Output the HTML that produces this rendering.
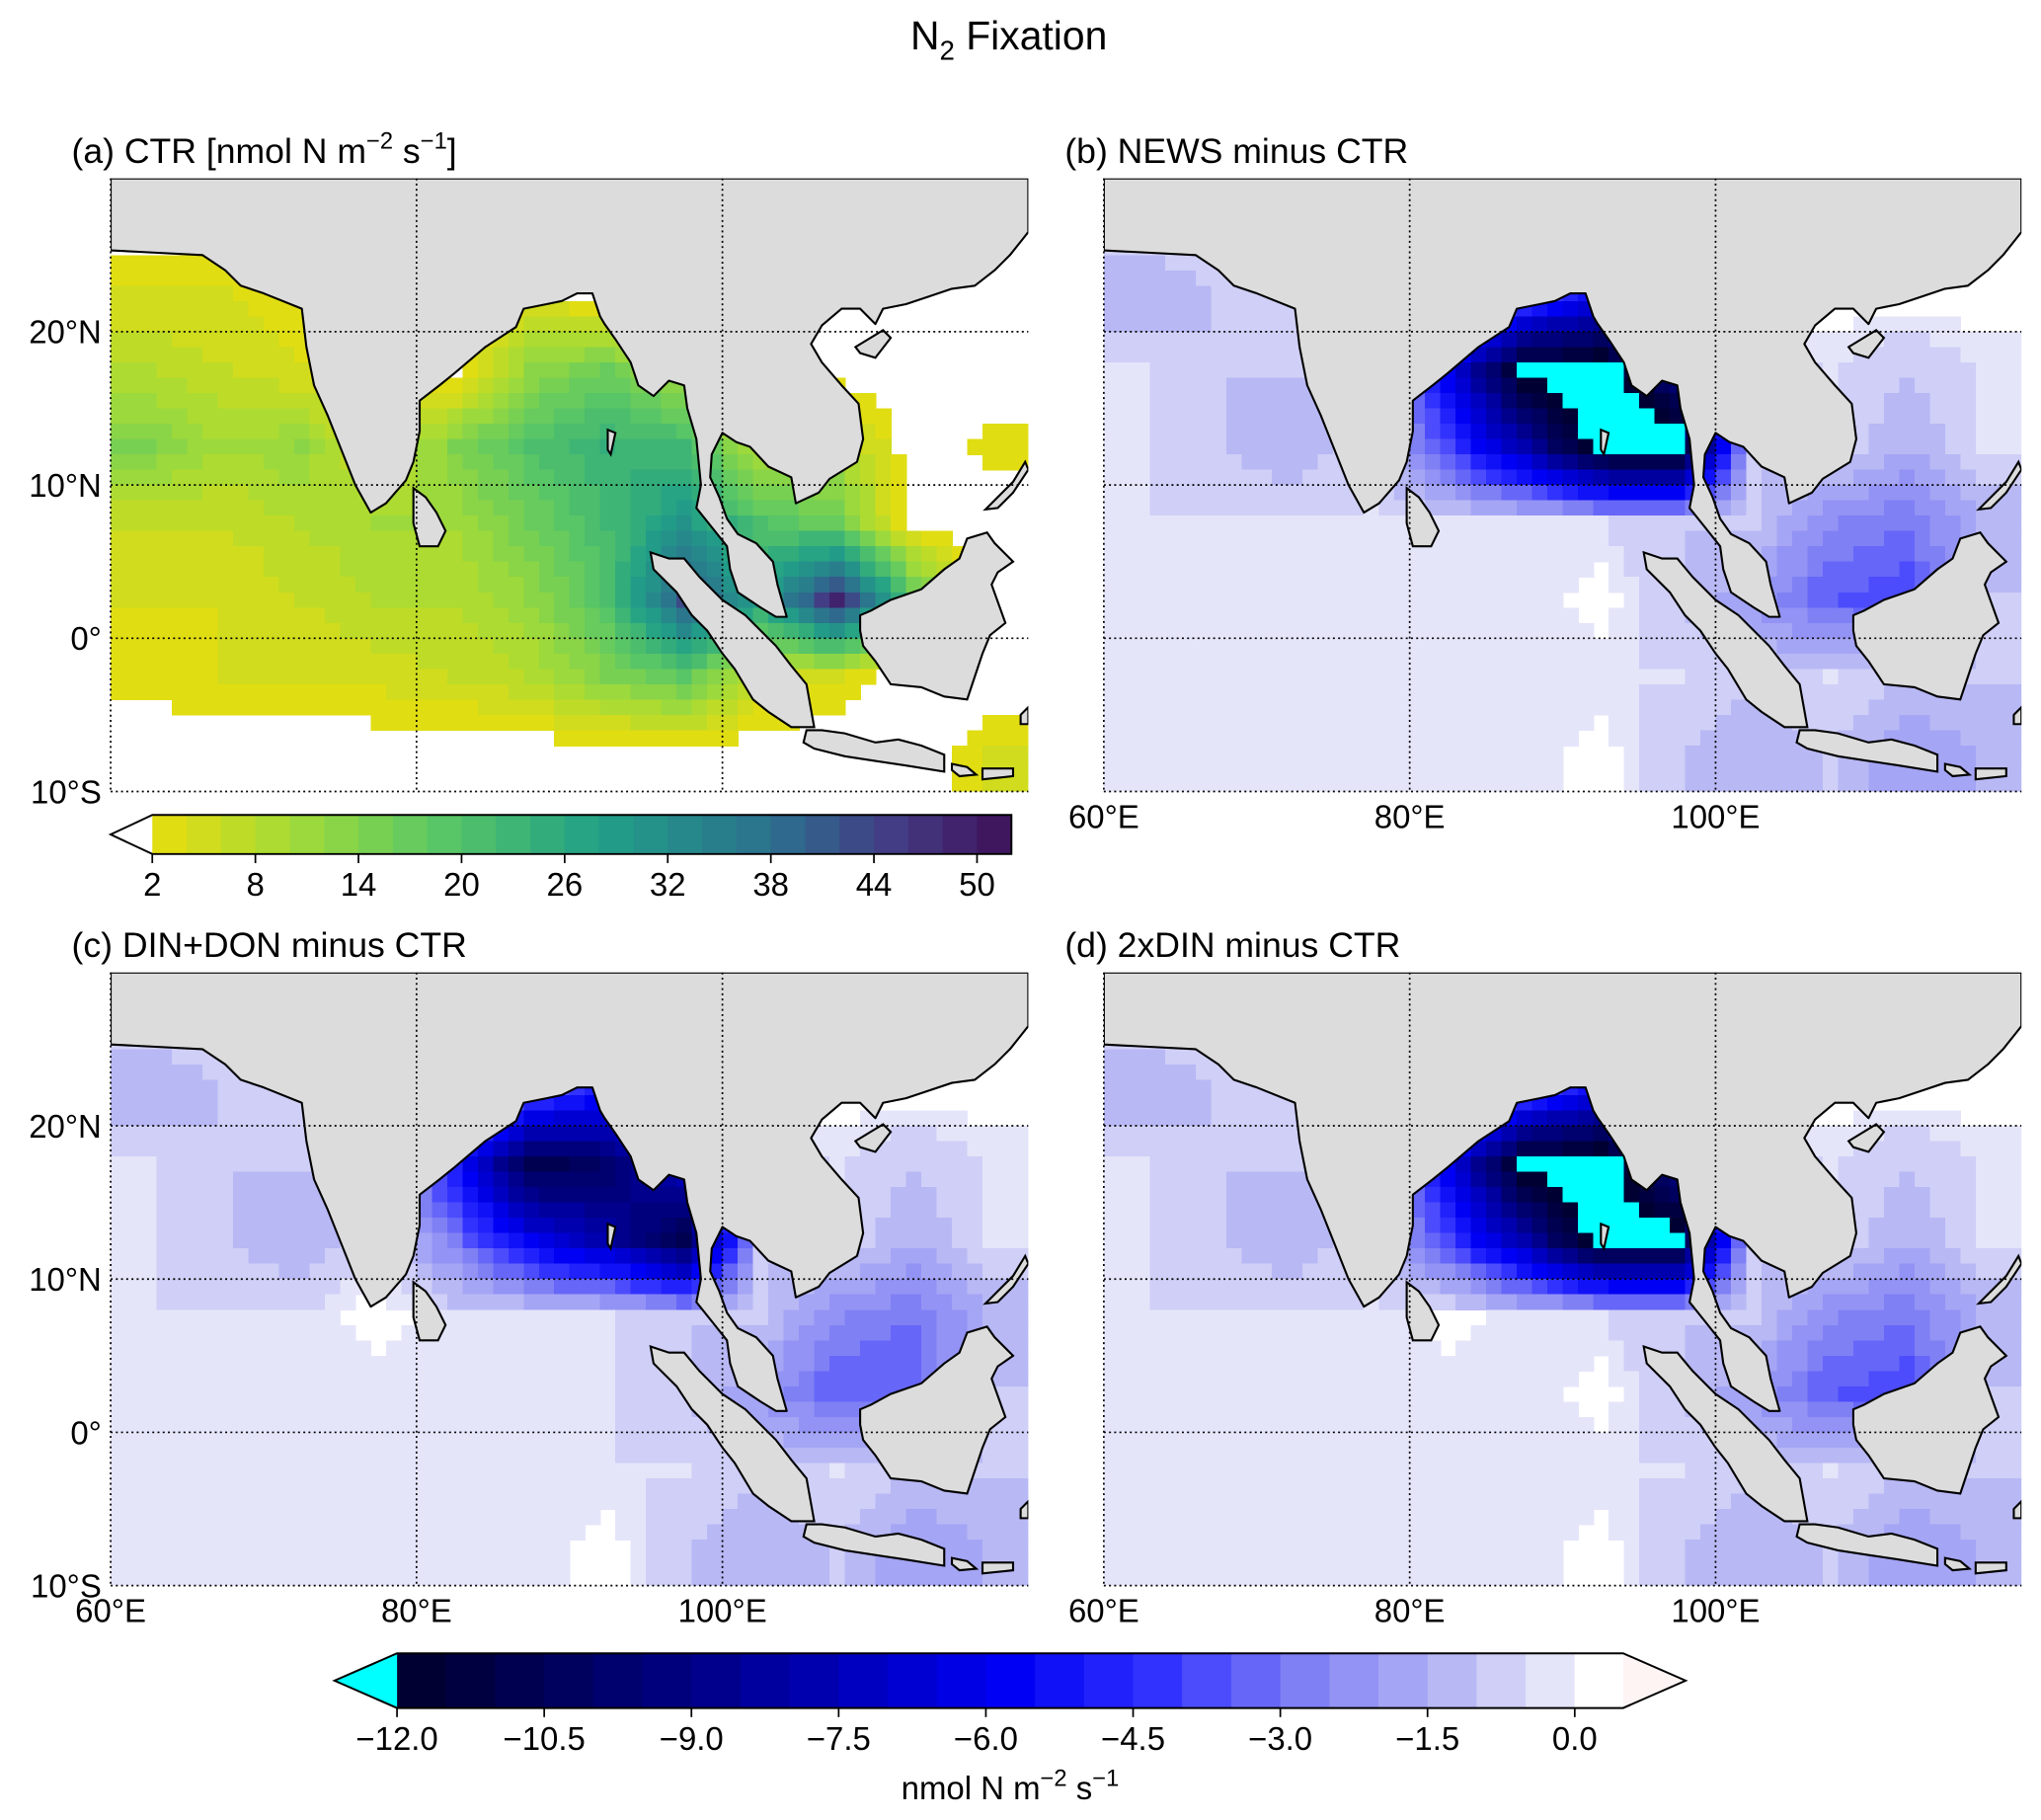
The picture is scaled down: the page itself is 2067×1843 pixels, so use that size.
<!DOCTYPE html>
<html><head><meta charset="utf-8"><style>
html,body{margin:0;padding:0;background:#fff;}
svg{display:block;font-family:"Liberation Sans",Arial,sans-serif;}
</style></head><body>
<svg id="fig" width="2067" height="1843" viewBox="0 0 1568 1398" xmlns="http://www.w3.org/2000/svg">
<text x="775" y="38" font-size="31" text-anchor="middle">N<tspan font-size="21" dy="8">2</tspan><tspan dy="-8"> Fixation</tspan></text>
<g id="root"></g>
</svg>
<script>
// grid: values at 5-degree cell centres, rows from 27.5N downward, cols from 62.5E eastward
const lats = [27.5,22.5,17.5,12.5,7.5,2.5,-2.5,-7.5];
const lons = [62.5,67.5,72.5,77.5,82.5,87.5,92.5,97.5,102.5,107.5,112.5,117.5];
const ctrValues = [
 [0,0,0,0,0,0,0,0,0,0,0,0],
 [4,4,3,0,0,3,0,0,0,0,0,0],
 [8,6,4,0,0,12,16,10,0,0,0,0],
 [14,10,12,4,14,20,24,22,8,10,0,3],
 [6,6,8,10,10,16,22,30,20,16,0,0],
 [4,4,6,8,8,12,20,42,28,48,20,0],
 [3,4,4,5,6,8,14,18,6,4,0,0],
 [0,0,0,0,0,0,0,0,0,0,0,4]];
const newsValues = [
 [-0.5,-0.5,-0.5,0,0,0,0,0,0,0,0,0],
 [-1.5,-1,-0.5,0,0,-3,-6,-1,0,0,0,0],
 [-0.5,-1,-1,-1,-6,-12.5,-13,-9,-1,-0.5,-1,-0.5],
 [-0.5,-1,-1.5,-0.5,-4,-8,-13,-13,-1,-0.5,-1.5,-0.5],
 [-0.5,-0.5,-0.5,-0.5,-0.5,-0.5,-0.5,-1,-1,-2.5,-3,-1.5],
 [-0.5,-0.5,-0.5,-0.5,-0.5,-0.5,0,-1,-2,-3.5,-4,-1],
 [-0.5,-0.5,-0.5,-0.5,-0.5,-0.5,-0.5,-0.5,-1,-0.5,-1,-1],
 [-0.5,-0.5,-0.5,-0.5,-0.5,-0.5,0,-1,-1.5,-1,-2,-1.5]];
const dinDonValues = [
 [-0.5,-0.5,-0.5,0,0,0,0,0,0,0,0,0],
 [-1.5,-1,-0.5,0,0,-3,-5,-1,0,0,0,0],
 [-0.5,-1,-1,-1,-5,-11,-10,-7,-1,-0.5,-1,-0.5],
 [-0.5,-1,-1.5,-0.5,-3,-6,-8,-11,-1,-0.5,-1.5,-0.5],
 [-0.5,-0.5,-0.5,0,-0.5,-0.5,-0.5,-1,-1,-2.5,-3,-1.5],
 [-0.5,-0.5,-0.5,-0.5,-0.5,-0.5,-0.5,-1,-2,-3.5,-3.5,-1],
 [-0.5,-0.5,-0.5,-0.5,-0.5,-0.5,-0.5,-0.5,-1,-0.5,-1,-1],
 [-0.5,-0.5,-0.5,-0.5,-0.5,-0.5,0,-1,-1.5,-1,-2,-1.5]];
const dinValues = [
 [-0.5,-0.5,-0.5,0,0,0,0,0,0,0,0,0],
 [-1.5,-1,-0.5,0,0,-3,-6,-1,0,0,0,0],
 [-0.5,-1,-1,-1,-6,-12.5,-13,-9,-1,-0.5,-1,-0.5],
 [-0.5,-1,-1.5,-0.5,-4,-8,-13,-12.5,-1,-0.5,-1.5,-0.5],
 [-0.5,-0.5,-0.5,-0.5,0,-0.5,-0.5,-1,-1,-2.5,-3,-1.5],
 [-0.5,-0.5,-0.5,-0.5,-0.5,-0.5,0,-1,-2,-3.5,-4,-1],
 [-0.5,-0.5,-0.5,-0.5,-0.5,-0.5,-0.5,-0.5,-1,-0.5,-1,-1],
 [-0.5,-0.5,-0.5,-0.5,-0.5,-0.5,0,-1,-1.5,-1,-2,-1.5]];
const ctrTicks = [2,8,14,20,26,32,38,44,50];
const diffTicks = [-12.0,-10.5,-9.0,-7.5,-6.0,-4.5,-3.0,-1.5,0.0];
const lonTicks = [60,80,100];
const latTicks = [20,10,0,-10];

const NS="http://www.w3.org/2000/svg";
const root=document.getElementById('root');
function mk(tag,attrs,parent){const e=document.createElementNS(NS,tag);for(const k in attrs)e.setAttribute(k,attrs[k]);(parent||root).appendChild(e);return e;}
function lerpC(stops,t){t=Math.max(0,Math.min(1,t));for(let i=0;i<stops.length-1;i++){const a=stops[i],b=stops[i+1];if(t<=b[0]){const f=(t-a[0])/(b[0]-a[0]||1);const c=[0,1,2].map(j=>Math.round(a[1][j]+(b[1][j]-a[1][j])*f));return `rgb(${c})`;}}return `rgb(${stops[stops.length-1][1]})`;}
const vir=[[0,[225,221,19]],[0.15,[160,218,57]],[0.3,[94,201,98]],[0.5,[33,160,135]],[0.7,[44,112,142]],[0.85,[68,57,131]],[1,[60,10,82]]];
function ctrColor(v){if(v<2)return '#ffffff';const lv=Math.floor((v-2)/2)*2+2;return lerpC(vir,(lv-2)/50);}
const blu=[[0,[0,0,50]],[0.25,[0,0,140]],[0.5,[0,0,245]],[0.625,[50,50,255]],[0.75,[128,128,245]],[0.875,[184,184,245]],[0.96,[230,230,250]],[1,[235,235,252]]];
function diffColor(v){if(v<-12)return '#00ffff';if(v>-0.25&&v<0.5)return '#ffffff';if(v>=0.5)return '#fff0f0';const lv=Math.floor(v*2)/2;return lerpC(blu,(lv+12)/12);}
function interp(vals,lon,lat){
 let fx=(lon-lons[0])/5, fy=(lats[0]-lat)/5;
 fx=Math.max(0,Math.min(lons.length-1,fx)); fy=Math.max(0,Math.min(lats.length-1,fy));
 const i0=Math.floor(fx),j0=Math.floor(fy),i1=Math.min(i0+1,lons.length-1),j1=Math.min(j0+1,lats.length-1);
 const tx=fx-i0,ty=fy-j0;
 return vals[j0][i0]*(1-tx)*(1-ty)+vals[j0][i1]*tx*(1-ty)+vals[j1][i0]*(1-tx)*ty+vals[j1][i1]*tx*ty;
}

const land=[[60,25.3],[62,25.2],[66,25],[67.5,24],[68.5,23],[70,22.5],[72.5,21.5],[72.8,19],[73.3,16.5],[74.2,14.5],[75,12.5],[76,10],[77,8.2],[78,8.8],[79.3,10.3],[79.8,11.5],[80.2,13.5],[80.2,15.5],[81.5,16.5],[82.5,17.3],[84.5,19],[86.5,20.3],[87,21.5],[88.5,21.8],[89.5,22],[90.5,22.5],[91.5,22.5],[92,21],[92.3,20.5],[93,19.5],[94,18],[94.5,16.5],[95.5,15.8],[96.5,16.8],[97.5,16.5],[97.7,15],[98.3,13],[98.6,10],[98.3,8.5],[99.5,7],[100.3,6],[100.5,4.5],[101,3],[102.5,2],[103.5,1.4],[104.2,1.4],[103.6,3.5],[103.3,5],[102.2,6.2],[101,6.8],[100.3,7.8],[99.8,9.2],[99.2,10.5],[99.3,12],[100,13.4],[100.9,12.8],[101.8,12.5],[103,11.2],[104.5,10.5],[104.8,8.8],[106.3,9.5],[107,10.4],[108.8,11.5],[109.2,13],[108.9,15.3],[107.8,16.5],[106.5,18],[105.8,19.2],[106.5,20.4],[107.8,21.5],[109,21.5],[110,20.5],[110.5,21.5],[112,21.8],[113.5,22.3],[115,22.8],[116.5,23],[117.8,24],[118.8,25],[119.6,26],[120,26.5],[120,30],[60,30]];
const islands=[
 [[79.8,9.8],[80.6,9.2],[81.3,8.2],[81.9,7],[81.4,6],[80.2,6],[79.8,7.5]],
 [[95.3,5.6],[96.5,5.2],[97.5,5.2],[98.5,4],[100,2.5],[101.5,1.5],[103.5,-0.5],[104.5,-1.8],[105.5,-3],[106,-5.8],[104.5,-5.8],[103,-4.8],[102,-4],[100.8,-2],[100,-1],[99,0.5],[98,1.5],[97,3],[95.5,4.5]],
 [[109,1.5],[109.7,1.8],[111,2.5],[113,3.2],[114.5,4.5],[115.5,5.2],[116,6.5],[117.3,6.9],[117.8,6.2],[119,5],[118,4.3],[117.6,3.5],[118.5,1],[117.5,0.2],[117,-1],[116.5,-2.5],[116,-4],[114.5,-3.8],[113,-3.2],[111,-3],[110,-1.5],[109.2,-0.5],[109,0.5]],
 [[105.5,-6],[106.5,-6],[108,-6.2],[110,-6.8],[111.5,-6.6],[113,-7],[114.5,-7.6],[114.5,-8.7],[112,-8.3],[110,-8],[108,-7.7],[106,-7.2],[105.3,-6.8]],
 [[115,-8.2],[116,-8.4],[116.6,-8.9],[115.5,-9],[115,-8.6]],
 [[117,-8.5],[119,-8.5],[119,-9],[117,-9.2]],
 [[108.7,19],[110.5,20.1],[111,19.6],[110,18.3],[109,18.6]],
 [[119.5,-5],[120,-4.5],[120,-5.6],[119.5,-5.6]],
 [[117.2,8.4],[119,10.2],[119.8,11.5],[120,11],[119,9.5],[118,8.5]],
 [[92.5,13.6],[93,13.4],[92.7,12],[92.5,12.3]]
];

const panels=[
 {x:85,y:137,vals:ctrValues,cf:ctrColor,title:'(a) CTR',sup:true,lonLabels:false,latLabels:true,name:'panel-a-ctr'},
 {x:848,y:137,vals:newsValues,cf:diffColor,title:'(b) NEWS minus CTR',lonLabels:true,latLabels:false,name:'panel-b-news'},
 {x:85,y:747,vals:dinDonValues,cf:diffColor,title:'(c) DIN+DON minus CTR',lonLabels:true,latLabels:true,name:'panel-c-dindon'},
 {x:848,y:747,vals:dinValues,cf:diffColor,title:'(d) 2xDIN minus CTR',lonLabels:true,latLabels:false,name:'panel-d-2xdin'}];
const W=705,H=471;
panels.forEach((p,pi)=>{
 const sx=lon=>p.x+(lon-60)/60*W, sy=lat=>p.y+(30-lat)/40*H;
 const g=mk('g',{});
 
 
 const cid='clip'+pi;
 const cp=mk('clipPath',{id:cid},g);mk('rect',{x:p.x,y:p.y,width:W,height:H},cp);
 const fg=mk('g',{'clip-path':`url(#${cid})`,'shape-rendering':'crispEdges'},g);
 mk('rect',{x:p.x,y:p.y,width:W,height:H,fill:'#fff'},fg);
 const step=1;
 for(let lat=30;lat>-10;lat-=step){
  for(let lon=60;lon<120;lon+=step){
   const v=interp(p.vals,lon+step/2,lat-step/2);
   const col=p.cf(v);
   if(col==='#ffffff')continue;
   mk('rect',{x:sx(lon),y:sy(lat),width:W/60*step+0.6,height:H/40*step+0.6,fill:col},fg);
  }
 }
 const pts=a=>a.map(q=>sx(q[0]).toFixed(1)+','+sy(q[1]).toFixed(1)).join(' ');
 const lg=mk('g',{'shape-rendering':'auto'},fg);
 const lp=mk('polygon',{points:pts(land),fill:'#dcdcdc',stroke:'#000','stroke-width':1.6,'stroke-linejoin':'round'},lg);
 
 
 islands.forEach(is=>{const ip=mk('polygon',{points:pts(is),fill:'#dcdcdc',stroke:'#000','stroke-width':1.6},lg);
   
   });
 [80,100].forEach(l=>mk('line',{x1:sx(l),x2:sx(l),y1:p.y,y2:p.y+H,stroke:'#000','stroke-width':1.3,'stroke-dasharray':'1.5,2.5'},lg));
 [20,10,0].forEach(l=>mk('line',{x1:p.x,x2:p.x+W,y1:sy(l),y2:sy(l),stroke:'#000','stroke-width':1.3,'stroke-dasharray':'1.5,2.5'},lg));
 mk('line',{x1:p.x,x2:p.x,y1:p.y,y2:p.y+H,stroke:'#000','stroke-width':1.3,'stroke-dasharray':'1.5,2.5'},g);
 mk('line',{x1:p.x,x2:p.x+W,y1:p.y+H,y2:p.y+H,stroke:'#000','stroke-width':1.3,'stroke-dasharray':'1.5,2.5'},g);
 const t=mk('text',{x:p.x-30,y:p.y-12,'font-size':27},g);
 
 
 if(p.sup){t.innerHTML='(a) CTR [nmol N m<tspan font-size="18" dy="-11">−2</tspan><tspan dy="11"> s</tspan><tspan font-size="18" dy="-11">−1</tspan><tspan dy="11">]</tspan>';}
 else t.textContent=p.title;
 if(p.latLabels) latTicks.forEach(l=>{const tt=mk('text',{x:p.x-7,y:sy(l)+9,'font-size':25,'text-anchor':'end'},g);
   
   
   tt.textContent=l===0?'0°':Math.abs(l)+'°'+(l>0?'N':'S');});
 if(p.lonLabels) lonTicks.forEach(l=>{const tt=mk('text',{x:sx(l),y:p.y+H+28,'font-size':25,'text-anchor':'middle'},g);
   
   
   tt.textContent=l+'°E';});
});

// colorbar (a)
(function(){
 const x0=117,x1=777,y0=626,h=30,vmin=2,vmax=52;
 const g=mk('g',{});
 
 
 const cx=v=>x0+(v-vmin)/(vmax-vmin)*(x1-x0);
 for(let v=vmin;v<vmax;v+=2) mk('rect',{x:cx(v),y:y0,width:cx(v+2)-cx(v)+0.5,height:h,fill:ctrColor(v+0.1)},g);
 mk('polygon',{points:`${x0},${y0} ${x1},${y0} ${x1},${y0+h} ${x0},${y0+h} ${x0-32},${y0+h/2}`,fill:'none',stroke:'#000','stroke-width':1.5},g);
 ctrTicks.forEach(v=>{mk('line',{x1:cx(v),x2:cx(v),y1:y0+h,y2:y0+h+7,stroke:'#000','stroke-width':1.3},g);
  const t=mk('text',{x:cx(v),y:y0+h+32,'font-size':25,'text-anchor':'middle'},g);
  
  
  t.textContent=v;});
})();
// colorbar diff
(function(){
 const x0=305,y0=1270,h=42,vmin=-12,per=75.4;
 const x1=1247;
 const g=mk('g',{});
 
 
 const cx=v=>x0+(v-vmin)*per;
 for(let v=vmin;v<0.5;v+=0.5) mk('rect',{x:cx(v),y:y0,width:cx(v+0.5)-cx(v)+0.5,height:h,fill:diffColor(v+0.01)},g);
 mk('rect',{x:cx(0),y:y0,width:x1-cx(0),height:h,fill:'#fff'},g);
 mk('polygon',{points:`${x0},${y0} ${x0-48},${y0+h/2} ${x0},${y0+h}`,fill:'#00ffff'},g);
 mk('polygon',{points:`${x1},${y0} ${x1+48},${y0+h/2} ${x1},${y0+h}`,fill:'#fff4f4'},g);
 mk('polygon',{points:`${x0},${y0} ${x1},${y0} ${x1+48},${y0+h/2} ${x1},${y0+h} ${x0},${y0+h} ${x0-48},${y0+h/2}`,fill:'none',stroke:'#000','stroke-width':1.5},g);
 diffTicks.forEach(v=>{mk('line',{x1:cx(v),x2:cx(v),y1:y0+h,y2:y0+h+7,stroke:'#000','stroke-width':1.3},g);
  const t=mk('text',{x:cx(v),y:y0+h+32,'font-size':25,'text-anchor':'middle'},g);
  
  
  t.textContent=(v<0?'−':'')+Math.abs(v).toFixed(1);});
 const lab=mk('text',{x:776,y:1382,'font-size':25,'text-anchor':'middle'},g);
 
 
 lab.innerHTML='nmol N m<tspan font-size="18" dy="-10">−2</tspan><tspan dy="10"> s</tspan><tspan font-size="18" dy="-10">−1</tspan>';
})();
</script>
</body></html>
